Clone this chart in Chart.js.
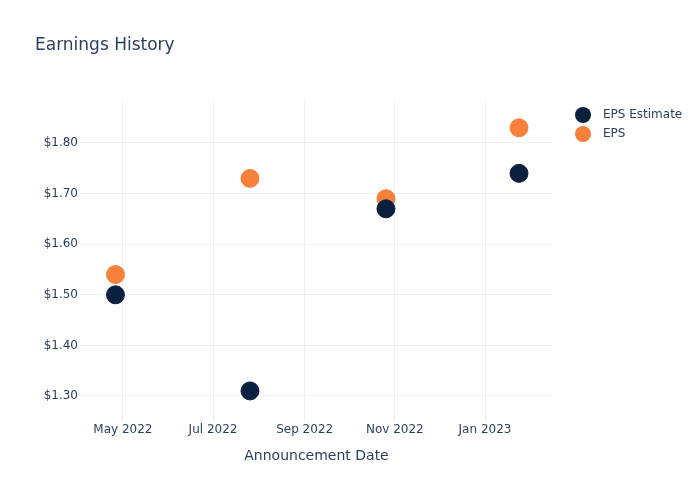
<!DOCTYPE html>
<html>
<head>
<meta charset="utf-8">
<script src="https://cdn.jsdelivr.net/npm/chart.js@4"></script>
<style>
    html, body { margin: 0; padding: 0; background: #ffffff; }
    #wrap { width: 700px; height: 500px; }
</style>
</head>
<body>
<div id="wrap"><canvas id="chartEarnings" width="700" height="500"></canvas></div>
<script>
// Data -----------------------------------------------------------------------
var announcementDates = ['2022-04-26', '2022-07-26', '2022-10-26', '2023-01-24'];
var epsEstimate = [1.50, 1.31, 1.67, 1.74];
var epsActual = [1.54, 1.73, 1.69, 1.83];
var xTickDates = ['2022-05-01', '2022-07-01', '2022-09-01', '2022-11-01', '2023-01-01'];
var xTickLabels = ['May 2022', 'Jul 2022', 'Sep 2022', 'Nov 2022', 'Jan 2023'];
var yTickValues = [1.30, 1.40, 1.50, 1.60, 1.70, 1.80];
var seriesNames = ['EPS Estimate', 'EPS'];

// Style ----------------------------------------------------------------------
var colors = Array('#0b1f3f', '#f7803a', '#2a3f5f', '#ebf0f8');
var fontFamily = '"DejaVu Sans", Verdana, sans-serif';

function toTime(s) {
    var p = s.split('-');
    return Date.UTC(+p[0], +p[1] - 1, +p[2]);
}

function toPoints(values) {
    return values.map(function(v, i) {
        return { x: toTime(announcementDates[i]), y: v };
    });
}

// Legend drawn on the right, plotly style
var sideLegend = {
    id: 'sideLegend',
    afterDraw: function(chart) {
        var ctx = chart.ctx;
        ctx.save();
        ctx.font = '12px ' + fontFamily;
        ctx.textBaseline = 'middle';
        ctx.textAlign = 'left';
        chart.data.datasets.forEach(function(ds, i) {
            var y = 115 + i * 19;
            ctx.beginPath();
            ctx.arc(583, y, 8, 0, Math.PI * 2);
            ctx.fillStyle = ds.backgroundColor;
            ctx.fill();
            ctx.fillStyle = colors[2];
            ctx.fillText(ds.label, 603, y);
        });
        ctx.restore();
    }
};

Chart.defaults.font.family = fontFamily;
Chart.defaults.color = colors[2];

const ctx_eps = document.getElementById('chartEarnings').getContext('2d');
const chartEarnings = new Chart(ctx_eps, {
    type: 'scatter',
    data: {
        datasets: [{
            label: seriesNames[0],
            data: toPoints(epsEstimate),
            backgroundColor: colors[0],
            borderColor: colors[0],
            pointRadius: 9,
            pointHoverRadius: 9
        }, {
            label: seriesNames[1],
            data: toPoints(epsActual),
            backgroundColor: colors[1],
            borderColor: colors[1],
            pointRadius: 9,
            pointHoverRadius: 9
        }]
    },
    options: {
        responsive: false,
        animation: false,
        layout: {
            padding: { left: 35, right: 147, top: 0, bottom: 0 }
        },
        plugins: {
            legend: { display: false },
            tooltip: { enabled: false },
            title: {
                display: true,
                text: 'Earnings History',
                align: 'start',
                color: colors[2],
                font: { size: 17, weight: 'normal' },
                padding: { top: 35, bottom: 45.6 }
            }
        },
        scales: {
            x: {
                type: 'linear',
                min: toTime('2022-04-02'),
                max: toTime('2023-02-16'),
                afterFit: function(axis) { axis.height = 78; },
                afterBuildTicks: function(axis) {
                    axis.ticks = xTickDates.map(function(d) { return { value: toTime(d) }; });
                },
                ticks: {
                    padding: 1,
                    maxRotation: 0,
                    font: { size: 12 },
                    color: colors[2],
                    callback: function(value, index) { return xTickLabels[index]; }
                },
                grid: { color: colors[3], drawTicks: false },
                border: { display: false },
                title: {
                    display: true,
                    text: 'Announcement Date',
                    color: colors[2],
                    font: { size: 14 },
                    padding: { top: 10, bottom: 35.6 }
                }
            },
            y: {
                min: 1.2486,
                max: 1.883,
                afterFit: function(axis) { axis.width = 45; },
                afterBuildTicks: function(axis) {
                    axis.ticks = yTickValues.map(function(v) { return { value: v }; });
                },
                ticks: {
                    padding: 2,
                    font: { size: 12 },
                    color: colors[2],
                    callback: function(value) { return '$' + value.toFixed(2); }
                },
                grid: { color: colors[3], drawTicks: false },
                border: { display: false }
            }
        }
    },
    plugins: [sideLegend]
});
</script>
</body>
</html>
